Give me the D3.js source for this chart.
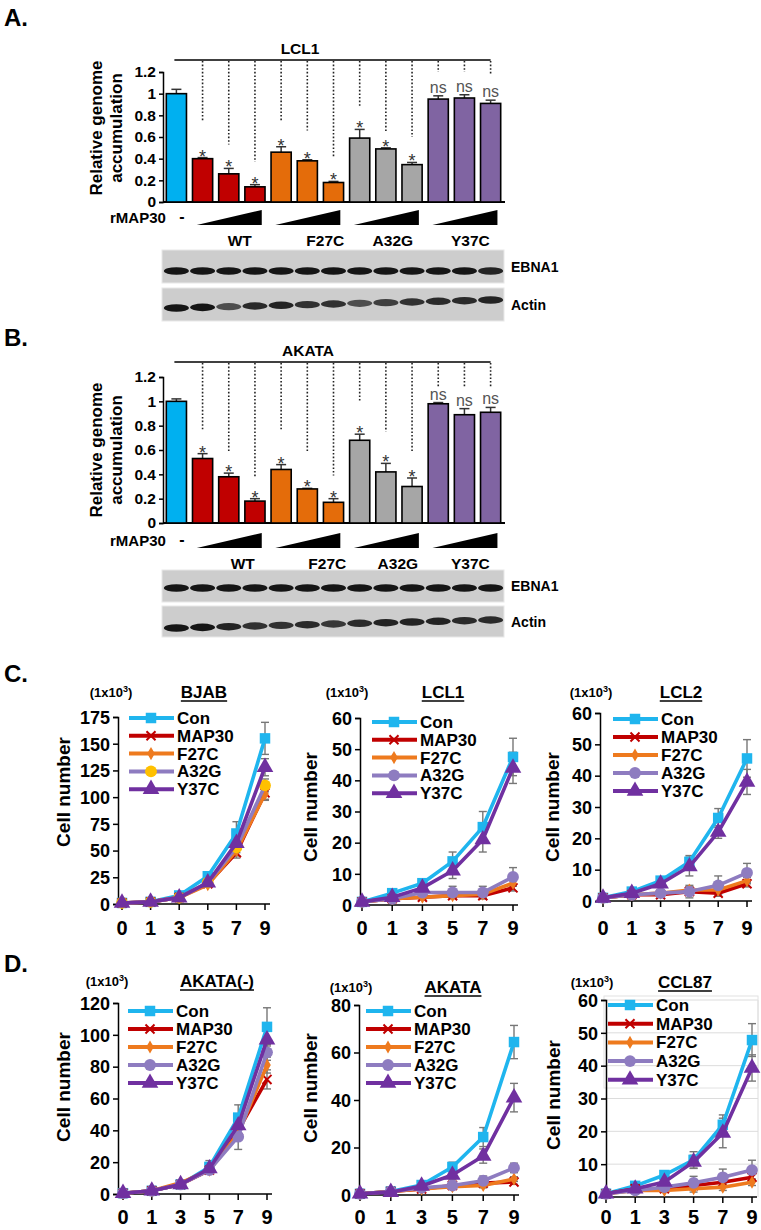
<!DOCTYPE html>
<html><head><meta charset="utf-8">
<script src="https://cdn.jsdelivr.net/npm/d3@7"></script>
<style>body{margin:0;background:#fff} text{font-family:Arial,"Liberation Sans",sans-serif;}</style>
</head><body><svg id="c" width="761" height="1230"></svg>
<script>
// ---------- DATA ----------
const barGroups = ["Con","WT","WT","WT","F27C","F27C","F27C","A32G","A32G","A32G","Y37C","Y37C","Y37C"];
const mutantLabels = ["WT","F27C","A32G","Y37C"];
const barTicks = [0,0.2,0.4,0.6,0.8,1,1.2];
// Panel A (LCL1)
const lclValues = [1.0,0.40,0.26,0.14,0.46,0.38,0.18,0.59,0.49,0.345,0.95,0.96,0.91];
const lclErrors = [0.04,0.01,0.05,0.02,0.05,0.01,0.01,0.08,0.01,0.02,0.03,0.03,0.03];
const lclSig    = ["","*","*","*","*","*","*","*","*","*","ns","ns","ns"];
const lclDashEnd= [null,0.74,0.53,0.37,0.74,0.66,0.42,0.88,0.64,0.60,1.2,1.2,1.18];
// Panel B (AKATA)
const akataValues = [1.0,0.53,0.38,0.18,0.44,0.28,0.17,0.68,0.42,0.30,0.98,0.89,0.91];
const akataErrors = [0.02,0.04,0.03,0.02,0.04,0.005,0.03,0.05,0.07,0.07,0.01,0.05,0.04];
const akataSig    = ["","*","*","*","*","*","*","*","*","*","ns","ns","ns"];
const akataDashEnd= [null,0.77,0.58,0.38,0.77,0.58,0.39,1.0,0.75,0.58,1.12,1.12,1.12];
// Western blot band intensities (13 lanes)
const blotA_EBNA1 = [1,1,1,1,1,1,1,1,1,1,1,1,0.9];
const blotA_Actin = [1,1,0.6,0.85,0.9,0.8,0.8,0.6,0.7,0.8,0.85,0.85,0.9];
const blotB_EBNA1 = [1,1,1,1,1,1,1,1,1,1,1,1,1];
const blotB_Actin = [1,1,0.9,0.8,0.8,0.85,0.75,0.85,0.9,0.9,0.9,0.85,0.85];

// Growth curves
const days = ["0","1","3","5","7","9"];
const seriesNames = ["Con","MAP30","F27C","A32G","Y37C"];
const BJAB_vals = [[1,2,8,26,66,155],[1,2,6,19,48,104],[1,2,6,18,50,103],[1,2,6,20,53,111],[1,2,6,20,57,128]];
const BJAB_errs = [[0.5,1,2,4,11,15],[0,1,1,2,5,6],[0,1,1,2,5,6],[0,1,1,2,5,6],[0,1,1,3,5,8]];
const LCL1_vals = [[1,3.8,7,14,25,47.5],[1,2,2.5,3,3,5.5],[1,2,2.5,3,3.5,7],[1,2,4,4,4,9],[1,2.5,5.5,11,21,44]];
const LCL1_errs = [[0.3,0.5,1,3,5,6],[0,0.3,0.5,0.5,1,1],[0,0.3,0.5,0.5,1,1],[0.3,0.3,2,2,2,3],[0.3,0.5,1,2.5,4,5]];
const LCL2_vals = [[1,3,6.5,12.5,26.5,45.5],[1,2,2,3,2.5,5.5],[1,2,2.5,3.5,3.5,6.5],[1,2,2.5,3,5,9],[1,2.5,5.5,11,22,38]];
const LCL2_errs = [[0.3,0.5,1,2,3,6],[0,0.3,0.5,1,1,1],[0,0.3,0.5,1,1,1],[0.3,0.3,1,2,3,3],[0.3,0.5,1,3,2,4]];
const AKATAm_vals = [[0.5,2,6,17,48,105],[0.5,2,6,15,40,72],[0.5,2,7,15,38,81],[0.5,2,6,15,36,89],[0.5,2,6,16,43,97]];
const AKATAm_errs = [[0.5,1,1,4,8,12],[0,1,1,2,4,6],[0,1,1,2,4,5],[0,1,1,2,8,5],[0,1,1,3,5,6]];
const AKATA_vals = [[0.5,1.5,4.2,11.8,24.4,64.4],[0.5,1.5,2.5,4,5,5.5],[0.5,1.5,2.5,3.5,4,6.7],[0.5,1.5,3,4,6,11.4],[0.5,1.2,3.8,8.4,16.4,41]];
const AKATA_errs = [[0.3,0.5,1,2,4,7],[0,0.3,0.5,1,1,1],[0,0.3,0.5,1,1,1],[0,0.3,0.5,1,2,2],[0.3,0.5,1,2,3,6]];
const CCL87_vals = [[1,3.4,6.7,11.3,22,47.8],[1,2.5,2.5,3.5,4.5,6],[1,2,2,2.5,3,4.5],[1,2,3,4.3,6,8.2],[1,2.5,4.6,10.7,19.5,39.3]];
const CCL87_errs = [[0.3,0.5,1,2.5,3,5],[0,0.3,0.5,1,1,1],[0,0.3,0.5,1,1,1],[0.3,0.3,1,2,2.5,3],[0.3,0.5,1,2,4.5,4]];

// ---------- STYLE ----------
const barColor = {Con:"#00B0F0",WT:"#C00000",F27C:"#E46C0A",A32G:"#A6A6A6",Y37C:"#8064A2"};
const lineColor = {Con:"#1FB5EE",MAP30:"#C00000",F27C:"#EE7A1E",A32G:"#8E7CC0",Y37C:"#7030A0"};
const svg = d3.select("#c");

function txt(g,x,y,s,opt={}) {
  const t = g.append("text").attr("x",x).attr("y",y).text(s)
    .attr("font-size",opt.size||14).attr("font-weight",opt.weight||"bold")
    .attr("fill",opt.fill||"#000").attr("text-anchor",opt.anchor||"start");
  if (opt.rotate) t.attr("transform",`rotate(${opt.rotate},${x},${y})`);
  return t;
}

// ---------- BAR CHARTS ----------
function barChart(cfg) {
  const g = svg.append("g");
  const x = d3.scaleBand().domain(d3.range(barGroups.length)).range([165,502]).paddingInner(0.23).paddingOuter(0.05);
  const y = d3.scaleLinear().domain([0,1.2]).range([cfg.y0,cfg.y1]);
  const ax = d3.axisLeft(y).tickValues(barTicks).tickSize(4).tickPadding(3)
     .tickFormat(d=> d===0?"0":(d===1?"1":d3.format(".1f")(d)));
  const axg = g.append("g").attr("transform","translate(163,0)").call(ax);
  axg.select(".domain").attr("stroke","#000").attr("stroke-width",1.5);
  axg.selectAll(".tick line").attr("stroke","#000").attr("stroke-width",1.5);
  axg.selectAll(".tick text").attr("font-size",15.5).attr("font-weight","bold").attr("font-family","Arial,Liberation Sans").attr("fill","#000");
  g.append("line").attr("x1",163).attr("x2",505).attr("y1",cfg.y0).attr("y2",cfg.y0).attr("stroke","#000").attr("stroke-width",2);
  // bracket
  g.append("line").attr("x1",x(0)+x.bandwidth()/2-2).attr("x2",x(12)+x.bandwidth()/2).attr("y1",cfg.yb).attr("y2",cfg.yb).attr("stroke","#000").attr("stroke-width",1.5);
  txt(g,cfg.titleX,cfg.yb-6,cfg.title,{size:15.5,anchor:"middle"});
  // dotted
  cfg.dash.forEach((d,i)=>{ if(d==null) return;
    g.append("line").attr("x1",x(i)+x.bandwidth()/2).attr("x2",x(i)+x.bandwidth()/2)
     .attr("y1",cfg.yb+1).attr("y2",y(d)).attr("stroke","#222").attr("stroke-width",1.6).attr("stroke-dasharray","1.6,2");
  });
  // error bars
  cfg.vals.forEach((v,i)=>{
    const cx = x(i)+x.bandwidth()/2, top=y(v+cfg.errs[i]);
    g.append("line").attr("x1",cx).attr("x2",cx).attr("y1",y(v)).attr("y2",top).attr("stroke","#333").attr("stroke-width",1.5);
    g.append("line").attr("x1",cx-5).attr("x2",cx+5).attr("y1",top).attr("y2",top).attr("stroke","#333").attr("stroke-width",1.5);
  });
  g.selectAll("rect.bar").data(cfg.vals).join("rect")
    .attr("x",(d,i)=>x(i)).attr("width",x.bandwidth()).attr("y",d=>y(d)).attr("height",d=>cfg.y0-y(d))
    .attr("fill",(d,i)=>barColor[barGroups[i]]).attr("stroke","#000").attr("stroke-width",1.6);
  cfg.sig.forEach((s,i)=>{ if(!s) return;
    const cx = x(i)+x.bandwidth()/2, top=y(cfg.vals[i]+cfg.errs[i]);
    if (s==="*") txt(g,cx,top+5,"*",{size:18,weight:"normal",anchor:"middle",fill:"#333"});
    else txt(g,cx,top-3,s,{size:16,weight:"normal",anchor:"middle",fill:"#555"});
  });
  // rMAP30 row
  txt(g,110,cfg.yw+13,"rMAP30",{size:15});
  txt(g,182,cfg.yw+12,"-",{size:16,anchor:"middle"});
  mutantLabels.forEach((m,k)=>{
    const c = x(2+3*k)+x.bandwidth()/2;
    g.append("path").attr("d",`M${c-32},${cfg.yw+15}L${c+33},${cfg.yw+15}L${c+33},${cfg.yw}Z`).attr("fill","#000");
    txt(g,c+cfg.labOff[k],cfg.yw+36,m,{size:15.5,anchor:"middle"});
  });
  return x;
}

function blot(x, top, h, ints, label, tilt, bandY) {
  const g = svg.append("g");
  g.append("rect").attr("x",x.range()[0]-3).attr("y",top).attr("width",x.range()[1]-x.range()[0]+5).attr("height",h).attr("fill","#cdcdcd").attr("stroke","#e8e8e8");
  ints.forEach((v,i)=>{
    const cx = x(i)+x.bandwidth()/2;
    const cy = top+bandY - tilt*i/12;
    g.append("ellipse").attr("cx",cx).attr("cy",cy).attr("rx",12.5).attr("ry",3.2+v*0.6)
     .attr("fill",d3.interpolateRgb("#a0a0a0","#151515")(v));
  });
  txt(g,x.range()[1]+9,top+h/2+5,label,{size:14});
}

const xA = barChart({y0:202,y1:72,yb:60,title:"LCL1",titleX:300,vals:lclValues,errs:lclErrors,sig:lclSig,dash:lclDashEnd,yw:210,labOff:[11,18,7,6]});
txt(svg,4,26,"A.",{size:24});
txt(svg,102,128,"Relative genome",{size:17,rotate:-90,anchor:"middle"});
txt(svg,122,128,"accumulation",{size:17,rotate:-90,anchor:"middle"});
blot(xA,250,33,blotA_EBNA1,"EBNA1",0,21);
blot(xA,288,33,blotA_Actin,"Actin",8,20);

const xB = barChart({y0:523,y1:377,yb:362,title:"AKATA",titleX:308,vals:akataValues,errs:akataErrors,sig:akataSig,dash:akataDashEnd,yw:533,labOff:[14,20,12,6]});
txt(svg,4,346,"B.",{size:24});
txt(svg,102,450,"Relative genome",{size:17,rotate:-90,anchor:"middle"});
txt(svg,122,450,"accumulation",{size:17,rotate:-90,anchor:"middle"});
blot(xB,570,32,blotB_EBNA1,"EBNA1",0,18);
blot(xB,606,31,blotB_Actin,"Actin",8,22);

// ---------- LINE CHARTS ----------
function symbolFor(name){
  return {Con:d3.symbolSquare,MAP30:d3.symbolX,F27C:d3.symbolDiamond,A32G:d3.symbolCircle,Y37C:d3.symbolTriangle}[name];
}
function marker(g,name,cx,cy,markerFill){
  const col = markerFill||lineColor[name];
  const sizes = {Con:110,MAP30:55,F27C:50,A32G:110,Y37C:120};
  const p = g.append("path").attr("d",d3.symbol(symbolFor(name),sizes[name])()).attr("transform",`translate(${cx},${cy})`);
  if (name==="MAP30") p.attr("fill","none").attr("stroke",col).attr("stroke-width",2);
  else p.attr("fill",col);
}
function lineChart(cfg){
  const g = svg.append("g");
  const x = d3.scalePoint().domain(days).range([cfg.x0,cfg.x9]);
  const y = d3.scaleLinear().domain([0,cfg.max]).range([cfg.yb,cfg.yt]);
  const ticks = d3.range(0,cfg.max+0.01,cfg.step);
  if (cfg.grid) {
    ticks.slice(1).forEach(t=> g.append("line").attr("x1",cfg.ax).attr("x2",cfg.x9+6).attr("y1",y(t)).attr("y2",y(t)).attr("stroke","#dcdcdc"));
    g.append("line").attr("x1",cfg.x9+6).attr("x2",cfg.x9+6).attr("y1",cfg.yt).attr("y2",cfg.yb).attr("stroke","#dcdcdc");
    g.append("rect").attr("x",cfg.lx-4).attr("y",cfg.ly-9).attr("width",cfg.x9-cfg.lx+10).attr("height",92).attr("fill","none").attr("stroke","#e2e2e2");
  }
  const ya = d3.axisLeft(y).tickValues(ticks).tickSize(5).tickPadding(3);
  const yg = g.append("g").attr("transform",`translate(${cfg.ax},0)`).call(ya);
  yg.selectAll(".tick text").attr("font-size",18).attr("font-weight","bold").attr("font-family","Arial,Liberation Sans").attr("fill","#000").attr("dy","0.35em");
  yg.selectAll("line,path").attr("stroke","#000").attr("stroke-width",1.5);
  g.append("line").attr("x1",cfg.ax).attr("x2",cfg.x9+5).attr("y1",cfg.yb).attr("y2",cfg.yb).attr("stroke","#000").attr("stroke-width",1.5);
  days.forEach(d=>{
    g.append("line").attr("x1",x(d)).attr("x2",x(d)).attr("y1",cfg.yb).attr("y2",cfg.yb+6).attr("stroke","#000").attr("stroke-width",1.5);
    txt(g,x(d),cfg.xl,d,{size:20,anchor:"middle"});
  });
  // error bars
  cfg.vals.forEach((vs,s)=>{
    vs.forEach((v,i)=>{ const e=cfg.errs[s][i]; if(!e) return;
      const cx=x(days[i]);
      g.append("line").attr("x1",cx).attr("x2",cx).attr("y1",y(v-e)).attr("y2",y(v+e)).attr("stroke","#777").attr("stroke-width",1.4);
      [v-e,v+e].forEach(u=> g.append("line").attr("x1",cx-4).attr("x2",cx+4).attr("y1",y(u)).attr("y2",y(u)).attr("stroke","#777").attr("stroke-width",1.4));
    });
  });
  const line = d3.line().x((d,i)=>x(days[i])).y(d=>y(d));
  cfg.vals.forEach((vs,s)=>{
    const name = seriesNames[s];
    g.append("path").attr("d",line(vs)).attr("fill","none").attr("stroke",lineColor[name]).attr("stroke-width",3.6).attr("stroke-linejoin","round");
    vs.forEach((v,i)=> marker(g,name,x(days[i]),y(v),(cfg.a32gMarker&&name==="A32G")?cfg.a32gMarker:null));
  });
  // legend
  seriesNames.forEach((n,k)=>{
    const ly = cfg.ly + k*cfg.lstep;
    g.append("line").attr("x1",cfg.lx).attr("x2",cfg.lx+45).attr("y1",ly).attr("y2",ly).attr("stroke",lineColor[n]).attr("stroke-width",4);
    marker(g,n,cfg.lx+22,ly,(cfg.a32gMarker&&n==="A32G")?cfg.a32gMarker:null);
    txt(g,cfg.lx+48,ly+6,n,{size:17});
  });
  // titles
  const t = txt(g,cfg.tx,cfg.ty,cfg.title,{size:17,anchor:"middle"});
  const w = t.node().getComputedTextLength();
  g.append("line").attr("x1",cfg.tx-w/2).attr("x2",cfg.tx+w/2).attr("y1",cfg.ty+3).attr("y2",cfg.ty+3).attr("stroke","#000").attr("stroke-width",1.3);
  const u = txt(g,cfg.ux,cfg.ty-1,"(1x10",{size:13,anchor:"middle"});
  u.append("tspan").attr("font-size",9).attr("dy",-5).text("3");
  u.append("tspan").attr("dy",5).text(")");
  txt(g,cfg.clx,cfg.cly,"Cell number",{size:19,rotate:-90,anchor:"middle"}).attr("dy","0.35em");
}

txt(svg,4,682,"C.",{size:24});
txt(svg,4,972,"D.",{size:24});
lineChart({title:"BJAB",tx:204,ty:698,ux:111,vals:BJAB_vals,errs:BJAB_errs,max:175,step:25,ax:118,x0:122,x9:265,yt:717,yb:904,xl:935,lx:129,ly:718,lstep:17.8,clx:63,cly:792,a32gMarker:"#FFC000"});
lineChart({title:"LCL1",tx:443,ty:698,ux:347,vals:LCL1_vals,errs:LCL1_errs,max:60,step:10,ax:360,x0:362,x9:513,yt:718,yb:905,xl:935,lx:372,ly:722,lstep:17.8,clx:310,cly:807});
lineChart({title:"LCL2",tx:681,ty:698,ux:591,vals:LCL2_vals,errs:LCL2_errs,max:60,step:10,ax:600,x0:603,x9:747,yt:713,yb:901,xl:935,lx:613,ly:719,lstep:18,clx:552,cly:807});
lineChart({title:"AKATA(-)",tx:217,ty:987,ux:107,vals:AKATAm_vals,errs:AKATAm_errs,max:120,step:20,ax:118,x0:123,x9:267,yt:1003,yb:1194,xl:1224,lx:128,ly:1011,lstep:18,clx:63,cly:1087});
lineChart({title:"AKATA",tx:453,ty:993,ux:351,vals:AKATA_vals,errs:AKATA_errs,max:80,step:20,ax:359,x0:360,x9:514,yt:1005,yb:1195,xl:1224,lx:366,ly:1011,lstep:18,clx:310,cly:1088});
lineChart({title:"CCL87",tx:685,ty:988,ux:592,vals:CCL87_vals,errs:CCL87_errs,max:60,step:10,ax:606,x0:606,x9:752,yt:1000,yb:1197,xl:1224,lx:608,ly:1005,lstep:18.7,clx:553,cly:1095,grid:true});
</script></body></html>
